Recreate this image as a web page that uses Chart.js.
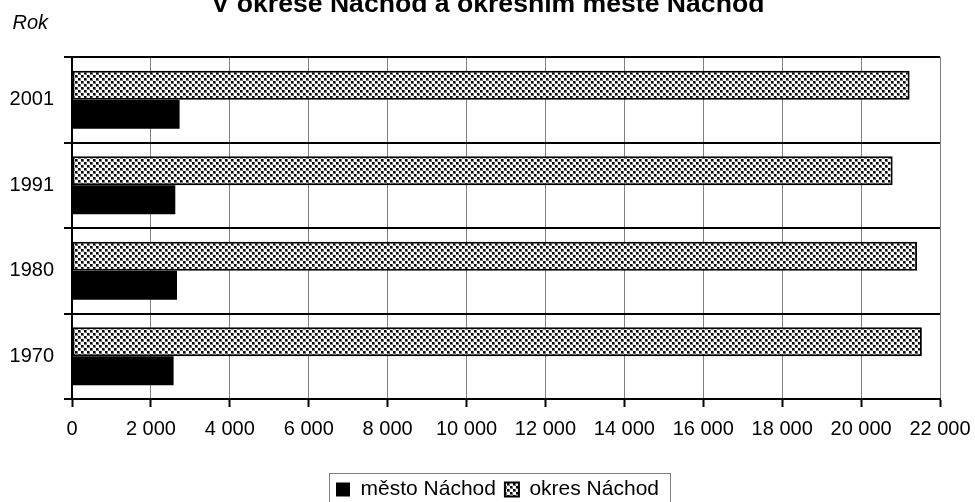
<!DOCTYPE html>
<html>
<head>
<meta charset="utf-8">
<script src="https://cdn.jsdelivr.net/npm/chart.js@4/dist/chart.umd.min.js"></script>
<style>
  html, body { margin: 0; padding: 0; background: #fff; }
  canvas { display: block; }
</style>
</head>
<body>
<canvas id="c" width="975" height="502"></canvas>
<script>
// ---- data ----
const years = ['2001', '1991', '1980', '1970'];
const okresNachod = [21230, 20800, 21420, 21540];
const mestoNachod = [2727, 2618, 2661, 2575];
const seriesNames = ['okres Náchod', 'město Náchod'];
const xTicks = [0, 2000, 4000, 6000, 8000, 10000, 12000, 14000, 16000, 18000, 20000, 22000];
const titleText = 'V okrese Náchod a okresním městě Náchod';
const yAxisTitle = 'Rok';

const FONT = "'Liberation Sans', Arial, sans-serif";
Chart.defaults.font.family = FONT;
Chart.defaults.color = '#000';

function makePattern() {
  const t = document.createElement('canvas');
  t.width = 6; t.height = 6;
  const g = t.getContext('2d');
  g.fillStyle = '#fff'; g.fillRect(0, 0, 6, 6);
  g.fillStyle = '#707070';
  g.fillRect(2, 0, 1, 3); g.fillRect(0, 2, 2, 1);
  g.fillRect(5, 3, 1, 3); g.fillRect(3, 5, 2, 1);
  g.fillStyle = '#000';
  g.fillRect(0, 0, 2, 2);
  g.fillRect(3, 3, 2, 2);
  return g.createPattern(t, 'repeat');
}
const pattern = makePattern();

function fmt(v) {
  return String(v).replace(/\B(?=(\d{3})+(?!\d))/g, ' ');
}

const LEGEND_SHIFT = 27.5;
const LEGEND_PAD = 9;

const decor = {
  id: 'decor',
  afterLayout(chart) {
    const lg = chart.legend;
    if (lg) { lg.left += LEGEND_SHIFT; lg.right += LEGEND_SHIFT; }
  },
  afterDraw(chart) {
    const ctx = chart.ctx;
    ctx.save();
    ctx.fillStyle = '#000';
    ctx.textAlign = 'center';
    ctx.textBaseline = 'alphabetic';
    ctx.font = "bold 26.6px " + FONT;
    ctx.fillText(titleText, 488, 12);
    ctx.textAlign = 'left';
    ctx.font = "italic 20px " + FONT;
    ctx.fillText(yAxisTitle, 12.5, 29);
    // legend border
    const lg = chart.legend;
    if (lg && lg.lineWidths) {
      const p = lg.options.labels.padding;
      const w = lg.lineWidths[0] - p;
      const cx = (lg.left + lg.right) / 2;
      const l = cx - w / 2;
      ctx.strokeStyle = '#808080';
      ctx.lineWidth = 1;
      ctx.strokeRect(Math.round(l - 7) + 0.5, Math.round(lg.top + p - 6) + 0.5, Math.round(w + 18), 60);
    }
    ctx.restore();
  }
};

new Chart(document.getElementById('c'), {
  type: 'bar',
  data: {
    labels: years,
    datasets: [
      {
        label: seriesNames[0],
        data: okresNachod,
        backgroundColor: pattern,
        borderColor: '#000',
        borderWidth: 2,
        borderSkipped: false,
        categoryPercentage: 0.68,
        barPercentage: 1.0
      },
      {
        label: seriesNames[1],
        data: mestoNachod,
        backgroundColor: '#000',
        borderColor: '#000',
        borderWidth: 0,
        categoryPercentage: 0.68,
        barPercentage: 1.0
      }
    ]
  },
  options: {
    indexAxis: 'y',
    responsive: false,
    animation: false,
    devicePixelRatio: 1,
    layout: { padding: { top: 57, right: 35, bottom: -8, left: 0 } },
    scales: {
      x: {
        min: 0, max: 22000,
        afterBuildTicks(scale) { scale.ticks = xTicks.map(v => ({ value: v })); },
        afterFit(scale) { scale.height = 71; scale.paddingRight = 0; scale.paddingLeft = 0; },
        ticks: { font: { size: 20 }, color: '#000', padding: 10, maxRotation: 0, autoSkip: false,
                 callback: v => fmt(v) },
        grid: { color: '#808080', lineWidth: 1, tickColor: '#000', tickLength: 8, tickWidth: 2 },
        border: { color: '#000', width: 2 }
      },
      y: {
        afterFit(scale) { scale.width = 72; scale.paddingTop = 0; scale.paddingBottom = 0; },
        ticks: { font: { size: 20 }, color: '#000', padding: 10 },
        grid: { offset: true, color: '#000', lineWidth: 2, tickLength: 8 },
        border: { color: '#000', width: 2 }
      }
    },
    plugins: {
      legend: {
        position: 'bottom',
        reverse: true,
        labels: { font: { size: 21 }, color: '#000', boxWidth: 14, boxHeight: 14, padding: LEGEND_PAD }
      },
      title: { display: false },
      tooltip: { enabled: false }
    }
  },
  plugins: [decor]
});
</script>
</body>
</html>
